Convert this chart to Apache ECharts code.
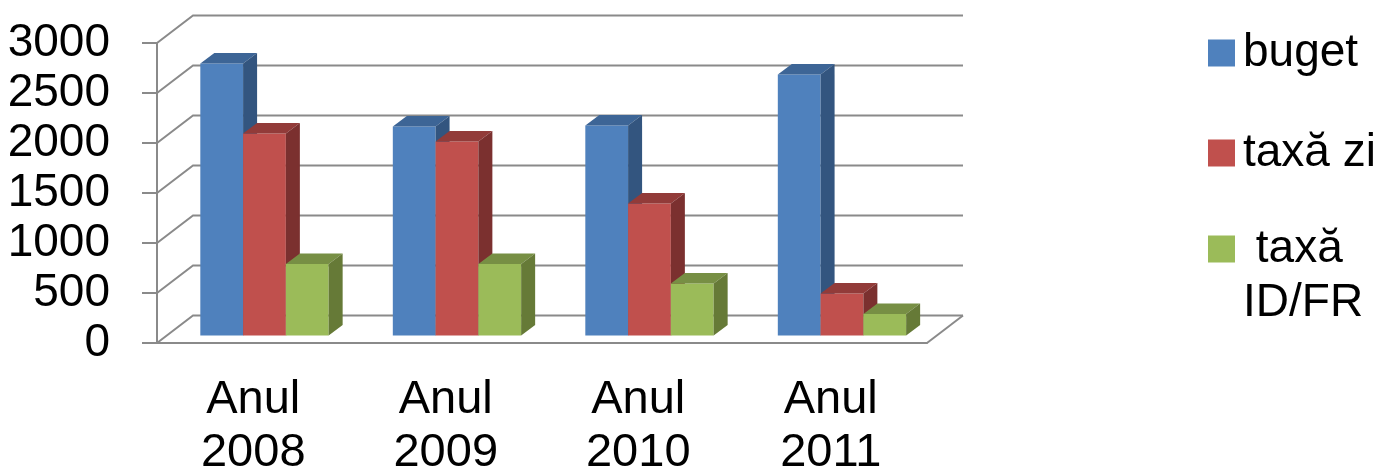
<!DOCTYPE html>
<html>
<head>
<meta charset="utf-8">
<script src="https://cdn.jsdelivr.net/npm/echarts@6/dist/echarts.min.js"></script>
<style>
  html, body { margin: 0; padding: 0; background: #fff; }
  #main { width: 1380px; height: 475px; }
</style>
</head>
<body>
<div id="main"></div>
<script>
  // data
  var categories = ['Anul\n2008', 'Anul\n2009', 'Anul\n2010', 'Anul\n2011'];
  var buget = [2720, 2090, 2100, 2610];
  var taxaZi = [2020, 1940, 1320, 420];
  var taxaIdFr = [715, 715, 520, 215];
  var yTicks = [0, 500, 1000, 1500, 2000, 2500, 3000];

  // fake 3d offsets (px)
  var DX = 36, DY = -27.5;     // back wall
  var FY = -7.5;               // bar front plane shift
  var BX = 14, BY = -10.5;     // bar depth
  var gridColor = '#8a8a8a';
  var font = 'Liberation Sans';

  function wallItem(params, api) {
    var cs = params.coordSys;
    var v = api.value(1);
    var y = api.coord([0, v])[1];
    var x0 = cs.x, x1 = cs.x + cs.width;
    var children = [{
      type: 'polyline',
      shape: { points: [[x0, y], [x0 + DX, y + DY], [x1 + DX, y + DY]] },
      style: { stroke: gridColor, lineWidth: 2, fill: null }
    }];
    if (v === 0) {
      children.push({
        type: 'line',
        shape: { x1: x1, y1: y, x2: x1 + DX, y2: y + DY },
        style: { stroke: gridColor, lineWidth: 2 }
      });
    }
    return { type: 'group', children: children };
  }

  function barSeries(name, data, idx, front, top, side) {
    return {
      name: name,
      type: 'custom',
      z: 3,
      clip: false,
      itemStyle: { color: front },
      encode: { x: 0, y: 1 },
      data: data.map(function (v, i) { return [i, v]; }),
      renderItem: function (params, api) {
        var cat = api.value(0), v = api.value(1);
        var band = api.size([1, 0])[0];
        var base = api.coord([cat, 0]);
        var tp = api.coord([cat, v]);
        var w = band * 2 / 9;
        var x0 = base[0] - band / 2 + band * 0.225 + idx * w;
        var yb = base[1] + FY, yt = tp[1] + FY;
        return {
          type: 'group',
          children: [
            { type: 'polygon', shape: { points: [[x0, yt], [x0 + w, yt], [x0 + w, yb], [x0, yb]] }, style: { fill: front } },
            { type: 'polygon', shape: { points: [[x0, yt], [x0 + w, yt], [x0 + w + BX, yt + BY], [x0 + BX, yt + BY]] }, style: { fill: top } },
            { type: 'polygon', shape: { points: [[x0 + w, yt], [x0 + w + BX, yt + BY], [x0 + w + BX, yb + BY], [x0 + w, yb]] }, style: { fill: side } }
          ]
        };
      }
    };
  }

  var legendText = { fontFamily: font, fontSize: 46, color: '#000', lineHeight: 54, padding: [0, 0, 0, 3] };

  var myChart = echarts.init(document.getElementById('main'));
  var option = {
    animation: false,
    grid: { left: 157, right: 453, top: 43, bottom: 132, containLabel: false, outerBoundsMode: 'none' },
    legend: [
      { data: ['buget'], left: 1203, top: 21, icon: 'rect', itemWidth: 27, itemHeight: 27, selectedMode: false, textStyle: legendText },
      { data: ['taxă zi'], left: 1203, top: 121, icon: 'rect', itemWidth: 27, itemHeight: 27, selectedMode: false, textStyle: legendText },
      { data: ['taxă ID/FR'], left: 1203, top: 163, icon: 'rect', itemWidth: 27, itemHeight: 27, selectedMode: false, textStyle: legendText,
        formatter: function () { return '\n taxă\nID/FR'; } }
    ],
    xAxis: {
      type: 'category',
      data: categories,
      axisLine: { lineStyle: { color: gridColor, width: 2 } },
      axisTick: { length: 13, lineStyle: { color: gridColor, width: 2 } },
      axisLabel: { fontFamily: font, fontSize: 47, color: '#000', lineHeight: 53, margin: 31 },
      splitLine: { show: false }
    },
    yAxis: {
      type: 'value',
      min: 0,
      max: 3000,
      interval: 500,
      axisLine: { show: true, lineStyle: { color: gridColor, width: 2 } },
      axisTick: { show: true, length: 15, lineStyle: { color: gridColor, width: 2 } },
      axisLabel: { fontFamily: font, fontSize: 46, color: '#000', margin: 47, formatter: function (v) { return String(v); } },
      splitLine: { show: false }
    },
    series: [
      {
        type: 'custom',
        z: 1,
        clip: false,
        silent: true,
        encode: { x: 0, y: 1 },
        data: yTicks.map(function (v) { return [0, v]; }),
        renderItem: wallItem
      },
      barSeries('buget', buget, 0, '#4F81BD', '#3D6596', '#33557F'),
      barSeries('taxă zi', taxaZi, 1, '#C0504D', '#923B39', '#7B302F'),
      barSeries('taxă ID/FR', taxaIdFr, 2, '#9BBB59', '#778F44', '#667A37')
    ]
  };
  myChart.setOption(option);
</script>
</body>
</html>
